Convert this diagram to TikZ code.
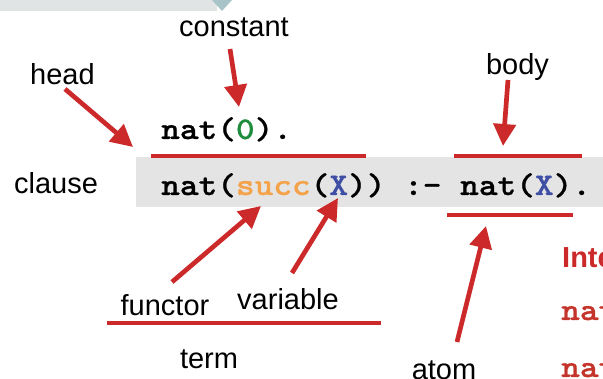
\documentclass[tikz,border=0pt]{standalone}
\usepackage{fontspec}
\setmainfont{Liberation Sans}
\newfontfamily\codefont{Latin Modern Mono Light}[FakeStretch=1.13, FakeBold=0.8]
\usetikzlibrary{arrows.meta}

\definecolor{markred}{RGB}{204,42,42}
\definecolor{darkred}{RGB}{196,52,42}
\definecolor{codebg}{RGB}{228,228,228}
\definecolor{bandgray}{RGB}{225,228,228}
\definecolor{bandteal}{RGB}{168,196,200}
\definecolor{constgreen}{RGB}{30,140,60}
\definecolor{funcorange}{RGB}{244,163,74}
\definecolor{varblue}{RGB}{62,78,165}

\tikzset{
  label text/.style={font=\fontsize{29}{29}\selectfont, inner sep=0pt, anchor=base},
  code text/.style={font=\codefont\bfseries\fontsize{31.5}{31.5}\selectfont, inner sep=0pt, anchor=base west},
  pointer/.style={draw=markred, line width=4.7pt, -{Triangle[length=22pt,width=22pt]}},
  underline/.style={draw=markred, line width=4.3pt},
}

\begin{document}
\begin{tikzpicture}[x=1pt, y=-1pt]
\useasboundingbox (0,0) rectangle (603,379);

% slide header band
\fill[bandgray] (0,0) rectangle (217,11);
\fill[bandteal] (212,0) -- (232,0) -- (222,11) -- cycle;

% shaded clause line
\fill[codebg] (136,157) rectangle (603,207);

% program text
\node[code text] (fact) at (161,139) {nat(\textcolor{constgreen}{0}).};
\node[code text] (rule) at (161,195)
  {nat(\textcolor{funcorange}{succ}(\textcolor{varblue}{X})) :- nat(\textcolor{varblue}{X}).};

% right-hand column
\node[label text, anchor=base west, font=\bfseries\fontsize{29}{29}\selectfont, text=markred] (inter) at (562,268) {Inte};
\node[code text, text=darkred] (natA) at (561,320) {nat};
\node[code text, text=darkred] (natB) at (561,377) {nat};

% labels
\node[label text] (constant) at (234,37) {constant};
\node[label text] (head) at (62.5,85) {head};
\node[label text] (body) at (517.5,75) {body};
\node[label text] (clause) at (56,194) {clause};
\node[label text] (functor) at (165,316) {functor};
\node[label text] (variable) at (288,310) {variable};
\node[label text] (term) at (209,369) {term};
\node[label text] (atom) at (444,380) {atom};

% underlines
\draw[underline] (151,156) -- (366,156);
\draw[underline] (454,156) -- (582,156);
\draw[underline] (447,215) -- (573,215);
\draw[underline] (107,323) -- (381,323);

% arrow end points
\coordinate (constant-tail) at (230,49);
\coordinate (constant-tip) at (239,107);
\coordinate (head-tail) at (65,89);
\coordinate (head-tip) at (133,147);
\coordinate (body-tail) at (508,80);
\coordinate (body-tip) at (503,146);
\coordinate (functor-tail) at (172,282);
\coordinate (functor-tip) at (261,206);
\coordinate (variable-tail) at (292,273);
\coordinate (variable-tip) at (338,198);
\coordinate (atom-tail) at (457,342);
\coordinate (atom-tip) at (486,226);

% arrows
\draw[pointer] (constant-tail) -- (constant-tip);
\draw[pointer] (head-tail) -- (head-tip);
\draw[pointer] (body-tail) -- (body-tip);
\draw[pointer] (functor-tail) -- (functor-tip);
\draw[pointer] (variable-tail) -- (variable-tip);
\draw[pointer] (atom-tail) -- (atom-tip);
\end{tikzpicture}
\end{document}
